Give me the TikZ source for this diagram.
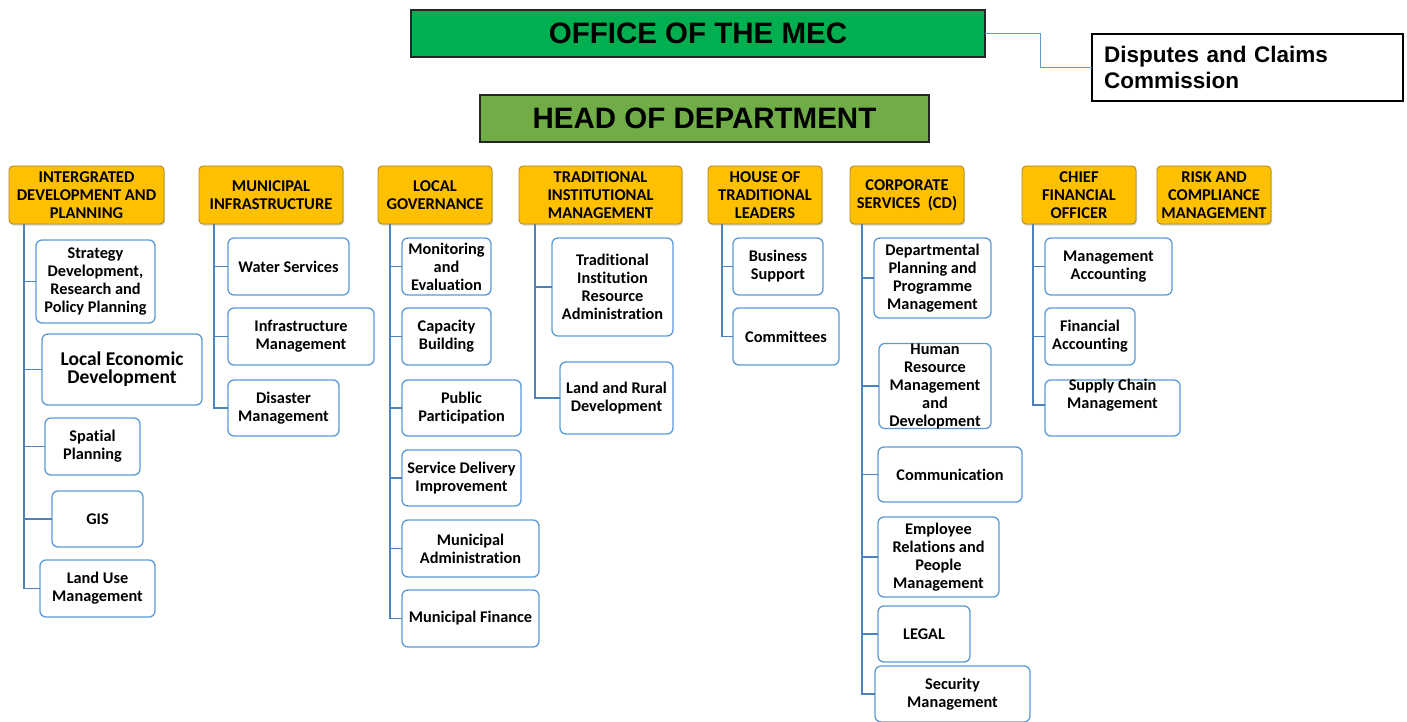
\documentclass[tikz,border=0pt]{standalone}
\usepackage{fontspec}
\setmainfont{Carlito}[Ligatures=NoCommon]
\newfontfamily\arialfont{Liberation Sans}
\usetikzlibrary{shadows}
\definecolor{megreen}{HTML}{00B050}
\definecolor{hodgreen}{HTML}{70AD47}
\definecolor{hdrorange}{HTML}{FFC000}
\definecolor{hdrborder}{HTML}{B08A20}
\definecolor{cboxblue}{HTML}{5B9BD5}
\definecolor{connblue}{HTML}{4F81BD}
\newcommand\ubox[7][]{%
  \node[#1, minimum width={(#5-#3)*1pt}, minimum height={(#6-#4)*1pt}] (#2) at ({(#3+#5)/2},{(#4+#6)/2}) {#7};}
\begin{document}
\begin{tikzpicture}[x=1pt,y=-1pt,
  every node/.style={inner sep=0pt, outer sep=0pt, align=center},
  topbox/.style={draw=black!85, line width=1.3pt, font=\arialfont\bfseries\fontsize{29.5}{32}\selectfont},
  dcbox/.style={draw=black, line width=1.2pt, fill=white, align=left, font=\arialfont\bfseries\fontsize{22.5}{25.5}\selectfont},
  hdr/.style={draw=hdrborder, line width=0.9pt, fill=hdrorange, rounded corners=4pt,
     drop shadow={shadow xshift=1pt, shadow yshift=-1.5pt, fill=black!35},
     font=\bfseries\fontsize{16.5}{17.7}\selectfont},
  cbox/.style={draw=cboxblue, line width=1.3pt, fill=white, rounded corners=6pt,
     font=\bfseries\fontsize{16.3}{18}\selectfont},
  ctext/.style={font=\bfseries\fontsize{16.3}{18}\selectfont},
  conn/.style={draw=connblue, line width=1.9pt},
  mconn/.style={draw=cboxblue, line width=1pt}]
\useasboundingbox (0,0) rectangle (1407,722);
% top
\ubox[topbox, fill=megreen]{mec}{411}{10}{985}{57}{OFFICE OF THE MEC}
\ubox[topbox, fill=hodgreen]{hod}{480}{95}{929}{142}{HEAD OF DEPARTMENT}
\node[dcbox, minimum width=311pt, minimum height=67pt, text width=287pt] (dc) at (1247.5,67.5) {Disputes and Claims\\Commission};
\draw[mconn] (mec.east) -- ++(55,0) |- (dc.west);
% headers
\ubox[hdr]{h1}{9}{166}{164}{224}{INTERGRATED\\DEVELOPMENT AND\\PLANNING}
\ubox[hdr]{h2}{199}{166}{343}{224}{MUNICIPAL\\INFRASTRUCTURE}
\ubox[hdr]{h3}{378}{166}{492}{224}{LOCAL\\GOVERNANCE}
\ubox[hdr]{h4}{519}{166}{682}{224}{TRADITIONAL\\INSTITUTIONAL\\MANAGEMENT}
\ubox[hdr]{h5}{708}{166}{822}{224}{HOUSE OF\\TRADITIONAL\\LEADERS}
\ubox[hdr]{h6}{850}{166}{964}{224}{CORPORATE\\SERVICES\ \ (CD)}
\ubox[hdr]{h7}{1022}{166}{1136}{224}{CHIEF\\FINANCIAL\\OFFICER}
\ubox[hdr]{h8}{1157}{166}{1271}{224}{RISK AND\\COMPLIANCE\\MANAGEMENT}
% column 1
\ubox[cbox]{a1}{36}{240}{155}{323}{Strategy\\Development,\\Research and\\Policy Planning}
\ubox[cbox, font=\bfseries\fontsize{19.5}{18}\selectfont]{a2}{42}{334}{202}{405}{Local Economic\\Development}
\ubox[cbox]{a3}{45}{418}{140}{475}{Spatial\\Planning}
\ubox[cbox]{a4}{52}{491}{143}{547}{GIS}
\ubox[cbox]{a5}{40}{560}{155}{617}{Land Use\\Management}
\foreach \c in {a1,a2,a3,a4,a5} \draw[conn] ([xshift=15pt]h1.south west) |- (\c.west);
% column 2
\ubox[cbox]{b1}{228}{238}{349}{295}{Water Services}
\ubox[cbox]{b2}{228}{308}{374}{365}{Infrastructure\\Management}
\ubox[cbox]{b3}{228}{380}{339}{436}{Disaster\\Management}
\foreach \c in {b1,b2,b3} \draw[conn] ([xshift=15pt]h2.south west) |- (\c.west);
% column 3
\ubox[cbox]{c1}{402}{238}{491}{295}{Monitoring\\and\\Evaluation}
\ubox[cbox]{c2}{402}{308}{491}{365}{Capacity\\Building}
\ubox[cbox]{c3}{402}{380}{521}{436}{Public\\Participation}
\ubox[cbox]{c4}{402}{450}{521}{506}{Service Delivery\\Improvement}
\ubox[cbox]{c5}{402}{520}{539}{577}{Municipal\\Administration}
\ubox[cbox]{c6}{402}{590}{539}{647}{Municipal Finance}
\foreach \c in {c1,c2,c3,c4,c5,c6} \draw[conn] ([xshift=12pt]h3.south west) |- (\c.west);
% column 4
\ubox[cbox]{d1}{552}{238}{673}{336}{Traditional\\Institution\\Resource\\Administration}
\ubox[cbox]{d2}{560}{362}{673}{434}{Land and Rural\\Development}
\foreach \c in {d1,d2} \draw[conn] ([xshift=16pt]h4.south west) |- (\c.west);
% column 5
\ubox[cbox]{e1}{733}{238}{823}{295}{Business\\Support}
\ubox[cbox]{e2}{733}{308}{839}{365}{Committees}
\foreach \c in {e1,e2} \draw[conn] ([xshift=14pt]h5.south west) |- (\c.west);
% column 6
\ubox[cbox]{f1}{874}{238}{991}{318}{Departmental\\Planning and\\Programme\\Management}
\ubox[cbox]{f2}{879}{344}{991}{428}{Human\\Resource\\Management\\and\\Development}
\ubox[cbox]{f3}{878}{447}{1022}{502}{Communication}
\ubox[cbox]{f4}{878}{517}{999}{597}{Employee\\Relations and\\People\\Management}
\ubox[cbox]{f5}{878}{606}{970}{662}{LEGAL}
\ubox[cbox]{f6}{875}{666}{1030}{722}{Security\\Management}
\foreach \c in {f1,f2,f3,f4,f5,f6} \draw[conn] ([xshift=12pt]h6.south west) |- (\c.west);
% column 7
\ubox[cbox]{g1}{1045}{238}{1172}{295}{Management\\Accounting}
\ubox[cbox]{g2}{1045}{308}{1135}{365}{Financial\\Accounting}
\ubox[cbox]{g3}{1045}{380}{1180}{436}{}
\node[ctext] (g3t) at ([yshift=13pt]g3.center) {Supply Chain\\Management};
\foreach \c in {g1,g2} \draw[conn] ([xshift=11pt]h7.south west) |- (\c.west);
\draw[conn] ([xshift=11pt]h7.south west) |- ([yshift=3pt]g3.west);
\end{tikzpicture}
\end{document}
